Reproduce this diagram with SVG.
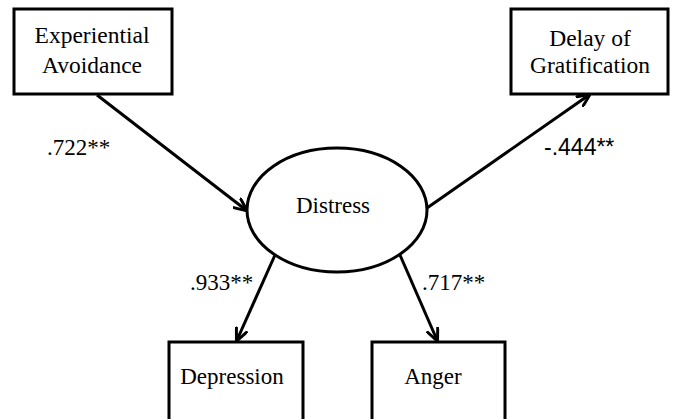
<svg xmlns="http://www.w3.org/2000/svg" width="673" height="419" viewBox="0 0 673 419">
<defs>
<style>
.box{fill:#fff;stroke:#000;stroke-width:3}
.t{fill:#000;text-anchor:middle}
.l{fill:#000}
.c{stroke:#000;stroke-width:3;fill:none;marker-end:url(#ah)}
</style>
<marker id="ah" viewBox="0 0 10 10" refX="9" refY="5" markerWidth="4.5" markerHeight="4.5" orient="auto" markerUnits="strokeWidth">
<path d="M0,0.5 L10,5 L0,9.5" fill="none" stroke="#000" stroke-width="2.2"/>
</marker>
</defs>
<rect width="673" height="419" fill="#fff"/>
<g id="connectors">
<line class="c" x1="97" y1="95" x2="246" y2="210"/>
<line class="c" x1="427" y1="208" x2="589" y2="95"/>
<line class="c" x1="275" y1="255" x2="237" y2="340"/>
<line class="c" x1="400" y1="255" x2="437" y2="340"/>
</g>
<g font-family="Liberation Serif, Times New Roman, serif" font-size="23">
<g id="labels">
<text class="l" x="47" y="155">.722**</text>
<text class="l" x="544" y="155" font-family="Liberation Sans, Arial, sans-serif">-.444**</text>
<text class="l" x="190" y="290">.933**</text>
<text class="l" x="422" y="290">.717**</text>
</g>
<g id="experiential">
<rect class="box" x="14" y="9" width="158" height="85"/>
<text class="t" x="92" y="43" font-size="23.5">Experiential</text>
<text class="t" x="92" y="73" font-size="23.5">Avoidance</text>
</g>
<g id="delay">
<rect class="box" x="511" y="9" width="157" height="85"/>
<text class="t" x="590" y="46" font-size="23.5">Delay of</text>
<text class="t" x="590" y="73" font-size="23.5">Gratification</text>
</g>
<g id="distress">
<ellipse class="box" cx="337" cy="210" rx="90" ry="62"/>
<text class="t" x="333" y="213">Distress</text>
</g>
<g id="depression">
<rect class="box" x="169" y="342" width="134" height="90"/>
<text class="t" x="232" y="384">Depression</text>
</g>
<g id="anger">
<rect class="box" x="372" y="342" width="133" height="90"/>
<text class="t" x="433" y="384">Anger</text>
</g>
</g>
</svg>
